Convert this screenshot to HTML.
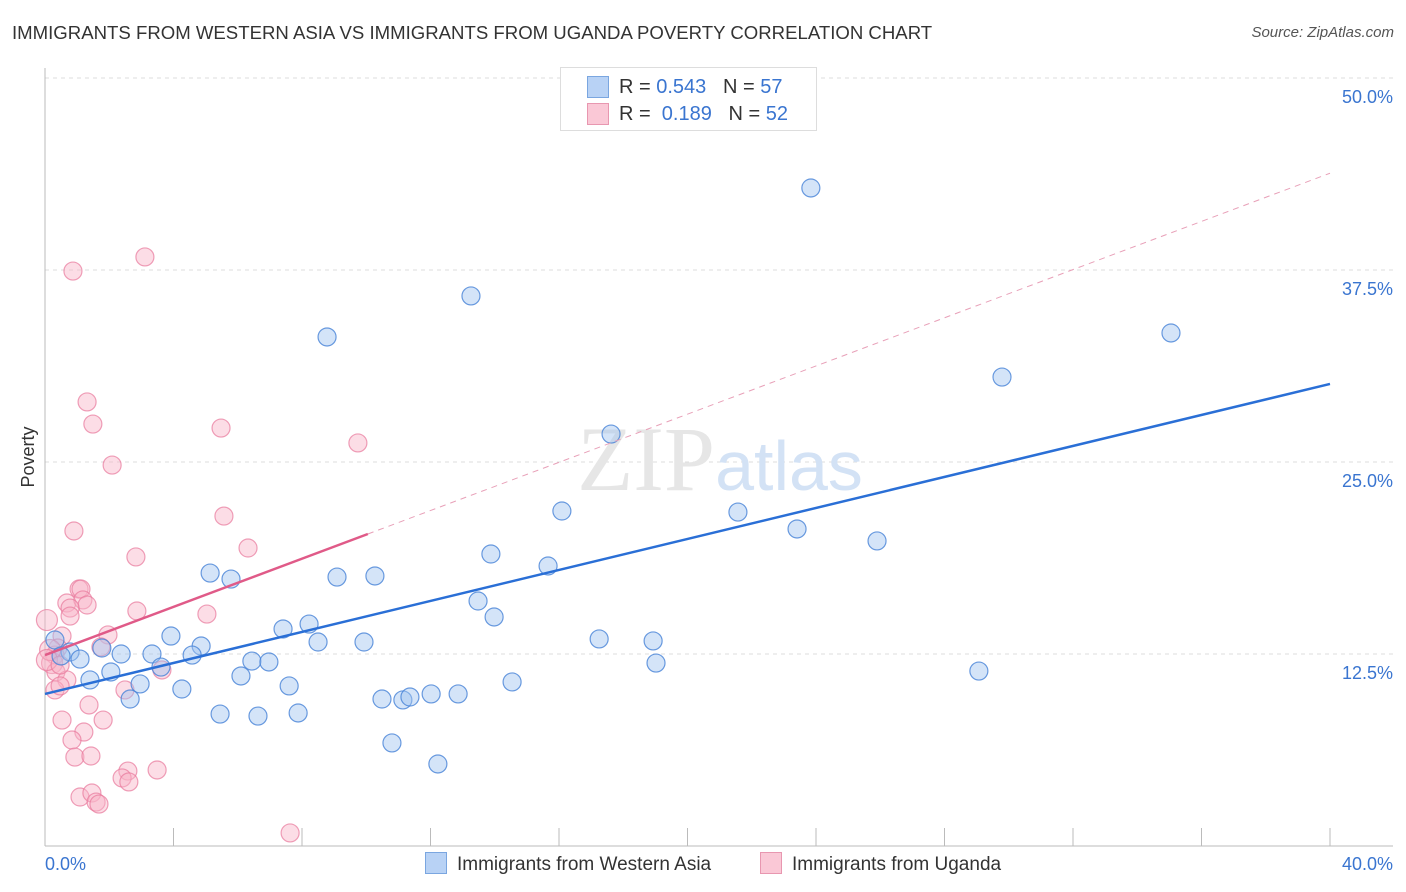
<!DOCTYPE html>
<html><head><meta charset="utf-8"><style>
body{margin:0;background:#fff;font-family:"Liberation Sans",sans-serif}
#wrap{position:relative;width:1406px;height:892px}
.t{position:absolute;white-space:nowrap}
</style></head><body>
<div id="wrap">
<div class="t" style="left:12px;top:22px;font-size:18.6px;color:#333">IMMIGRANTS FROM WESTERN ASIA VS IMMIGRANTS FROM UGANDA POVERTY CORRELATION CHART</div>
<div class="t" style="right:12px;top:24px;font-size:15px;color:#555;font-style:italic">Source: ZipAtlas.com</div>
<svg id="svg" width="1406" height="892" style="position:absolute;left:0;top:0"></svg>
</div>
<script>
const xTicks=[0,40];
const yTicks=[12.5,25,37.5,50];
const bluePx=[[811,188],[471,296],[327,337],[1171,333],[1002,377],[611,434],[562,511],[738,512],[797,529],[877,541],[491,554],[548,566],[210,573],[231,579],[337,577],[375,576],[478,601],[494,617],[309,624],[283,629],[171,636],[318,642],[364,642],[599,639],[653,641],[201,646],[55,640],[102,648],[121,654],[152,654],[192,655],[70,652],[80,659],[61,656],[252,661],[269,662],[161,667],[656,663],[979,671],[111,672],[241,676],[90,680],[140,684],[512,682],[289,686],[182,689],[130,699],[382,699],[403,700],[410,697],[431,694],[458,694],[220,714],[258,716],[298,713],[392,743],[438,764]];
const pinkPx=[[145,257],[73,271],[87,402],[93,424],[221,428],[358,443],[112,465],[224,516],[74,531],[248,548],[136,557],[79,589],[81,589],[67,603],[83,600],[87,605],[70,608],[70,616],[207,614],[137,611],[47,620],[62,636],[108,635],[101,647],[58,648],[55,655],[52,663],[56,672],[67,680],[55,690],[60,686],[162,670],[125,690],[89,705],[62,720],[103,720],[84,732],[72,740],[75,757],[91,756],[128,771],[157,770],[122,778],[129,782],[80,797],[92,793],[96,802],[99,804],[290,833],[50,650],[47,660],[60,665]];
const blueXs=bluePx.map(p=>+((p[0]-45)/1285*40).toFixed(2)), blueYs=bluePx.map(p=>+((846-p[1])/768*50).toFixed(2));
const pinkXs=pinkPx.map(p=>+((p[0]-45)/1285*40).toFixed(2)), pinkYs=pinkPx.map(p=>+((846-p[1])/768*50).toFixed(2));
const blueTrend=[9.9,30.08], pinkTrend=[12.43,43.8], pinkSolidEnd=10.05;
const X=v=>45+v/40*1285, Y=v=>846-v/50*768;
const svg=document.getElementById('svg'),NS='http://www.w3.org/2000/svg';
function mk(t,a,p){const e=document.createElementNS(NS,t);for(const k in a)e.setAttribute(k,a[k]);(p||svg).appendChild(e);return e;}
yTicks.forEach(v=>{const l=mk('line',{x1:45,x2:1393,y1:Y(v),y2:Y(v),stroke:'#ddd','stroke-dasharray':'4,4'});


const t=mk('text',{x:1393,y:Y(v)+25,'text-anchor':'end','font-size':18,fill:'#3a75d0','font-family':'Liberation Sans'});t.textContent=v.toFixed(1)+'%';

});
const ax=mk('line',{x1:45,x2:1393,y1:846,y2:846,stroke:'#bbb'});
const ay=mk('line',{x1:45,x2:45,y1:68,y2:846,stroke:'#bbb'});
for(let i=1;i<=10;i++){const tk=mk('line',{x1:45+i*128.5,x2:45+i*128.5,y1:828,y2:846,stroke:'#bbb'});}
xTicks.forEach((v,i)=>{const t=mk('text',{x:i?1393:45,y:870,'text-anchor':i?'end':'start','font-size':18,fill:'#3a75d0','font-family':'Liberation Sans'});t.textContent=v.toFixed(1)+'%';});
const yl=mk('text',{x:34,y:457,transform:'rotate(-90 34 457)','text-anchor':'middle','font-size':18,fill:'#333','font-family':'Liberation Sans'});yl.textContent='Poverty';
const wm=mk('text',{x:720,y:490,'text-anchor':'middle','font-size':92,fill:'#e6e6e6','font-family':'Liberation Serif'});wm.innerHTML='ZIP<tspan fill="#d3e2f5" font-family="Liberation Sans" font-size="70">atlas</tspan>';
function pts(xs,ys,fill,stroke,name){xs.forEach((x,i)=>{const c=mk('circle',{cx:X(x),cy:Y(ys[i]),r:(x<0.25?10.5:9),fill:fill,stroke:stroke,'stroke-width':1.2});});}
pts(pinkXs,pinkYs,'rgba(248,180,200,0.45)','rgba(232,120,155,0.7)','point-uganda');
pts(blueXs,blueYs,'rgba(160,195,240,0.45)','rgba(70,130,215,0.8)','point-western-asia');
const pd=mk('line',{x1:X(pinkSolidEnd),y1:Y(pinkTrend[0]+(pinkTrend[1]-pinkTrend[0])*pinkSolidEnd/40),x2:X(40),y2:Y(pinkTrend[1]),stroke:'#e8a0b8','stroke-dasharray':'6,5','stroke-width':1});
const ps=mk('line',{x1:X(0),y1:Y(pinkTrend[0]),x2:X(pinkSolidEnd),y2:Y(pinkTrend[0]+(pinkTrend[1]-pinkTrend[0])*pinkSolidEnd/40),stroke:'#e05a88','stroke-width':2.5});
const bl=mk('line',{x1:X(0),y1:Y(blueTrend[0]),x2:X(40),y2:Y(blueTrend[1]),stroke:'#2a6fd6','stroke-width':2.5});
</script>
<div class="t" style="left:560px;top:67px;width:255px;height:62px;border:1px solid #ddd;background:#fff;font-size:20px;color:#333">
<div style="position:absolute;left:26px;top:8px;width:20px;height:20px;background:#b8d2f5;border:1px solid #7aa6e0"></div>
<div style="position:absolute;left:58px;top:8px">R = <span style="color:#3a75d0">0.543</span>&nbsp;&nbsp;&nbsp;N = <span style="color:#3a75d0">57</span></div>
<div style="position:absolute;left:26px;top:35px;width:20px;height:20px;background:#fac8d6;border:1px solid #e897b0"></div>
<div style="position:absolute;left:58px;top:35px">R = &nbsp;<span style="color:#3a75d0">0.189</span>&nbsp;&nbsp;&nbsp;N = <span style="color:#3a75d0">52</span></div>
</div>
<div class="t" style="left:425px;top:852px;font-size:19px;color:#333"><span style="display:inline-block;width:20px;height:20px;background:#b8d2f5;border:1px solid #7aa6e0;vertical-align:-4px;margin-right:10px"></span>Immigrants from Western Asia</div>
<div class="t" style="left:760px;top:852px;font-size:19px;color:#333"><span style="display:inline-block;width:20px;height:20px;background:#fac8d6;border:1px solid #e897b0;vertical-align:-4px;margin-right:10px"></span>Immigrants from Uganda</div>
</body></html>
